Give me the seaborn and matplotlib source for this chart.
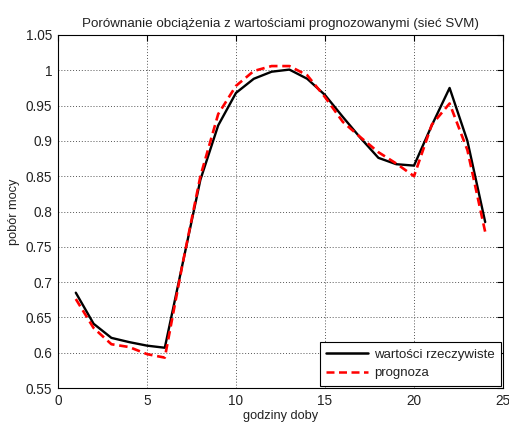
import matplotlib
matplotlib.use("Agg")
import matplotlib.pyplot as plt
import seaborn as sns
import pandas as pd

hours = list(range(1, 25))
actual = [0.685, 0.641, 0.621, 0.615, 0.610, 0.607, 0.726, 0.845, 0.922, 0.968,
          0.988, 0.998, 1.001, 0.988, 0.965, 0.934, 0.904, 0.876, 0.867, 0.865,
          0.922, 0.975, 0.900, 0.785]
forecast = [0.676, 0.635, 0.612, 0.608, 0.598, 0.593, 0.726, 0.850, 0.938, 0.978,
            0.999, 1.006, 1.006, 0.993, 0.962, 0.927, 0.905, 0.884, 0.868, 0.850,
            0.923, 0.953, 0.887, 0.771]
series_names = ["wartości rzeczywiste", "prognoza"]
title = "Porównanie obciążenia z wartościami prognozowanymi (sieć SVM)"
xlabel = "godziny doby"
ylabel = "pobór mocy"
xticks = [0, 5, 10, 15, 20, 25]
yticks = [0.55, 0.6, 0.65, 0.7, 0.75, 0.8, 0.85, 0.9, 0.95, 1.0, 1.05]
yticklabels = ["0.55", "0.6", "0.65", "0.7", "0.75", "0.8", "0.85", "0.9", "0.95", "1", "1.05"]

df = pd.DataFrame({
    "godzina": hours * 2,
    "wartosc": actual + forecast,
    "seria": [series_names[0]] * len(hours) + [series_names[1]] * len(hours),
})

sns.set_style("white")
plt.rcParams['font.family'] = ['Liberation Sans', 'DejaVu Sans']
txt = "#222222"

fig = plt.figure(figsize=(5.09, 4.23), dpi=100)
ax = fig.add_axes([58/509, 1-388/423, (503-58)/509, (388-35)/423])

sns.lineplot(data=df, x="godzina", y="wartosc", hue="seria", style="seria",
             palette={series_names[0]: "black", series_names[1]: "#ff0000"},
             dashes={series_names[0]: "", series_names[1]: (3.2, 1.8)},
             linewidth=1.8, ax=ax, legend=True)
lines = ax.get_lines()
if len(lines) >= 2:
    lines[0].set_linewidth(1.7)
    lines[1].set_linewidth(1.9)

ax.set_xlim(0, 25)
ax.set_ylim(0.55, 1.05)
ax.set_xticks(xticks)
ax.set_yticks(yticks)
ax.set_yticklabels(yticklabels)
ax.tick_params(direction="in", length=4, width=0.8, top=True, right=True,
               labelsize=9.8, colors="black", labelcolor=txt, pad=4)
ax.grid(True, linestyle=(0, (1, 2)), color="#555555", linewidth=0.7)
for s in ax.spines.values():
    s.set_color("black")
    s.set_linewidth(0.8)
    s.set_visible(True)

ax.set_title(title, fontsize=9.6, color=txt, pad=6)
ax.set_xlabel(xlabel, fontsize=9.2, color=txt, labelpad=2)
ax.set_ylabel(ylabel, fontsize=9.2, color=txt, labelpad=4)

leg = ax.legend(loc="lower right", fontsize=9.5, frameon=True, fancybox=False,
                edgecolor="black", framealpha=1, borderaxespad=0.15,
                handlelength=3.2, labelspacing=0.5, borderpad=0.5, handletextpad=0.4)
leg.get_frame().set_linewidth(0.8)
for t in leg.get_texts():
    t.set_color(txt)

fig.savefig("out.png", dpi=100)
